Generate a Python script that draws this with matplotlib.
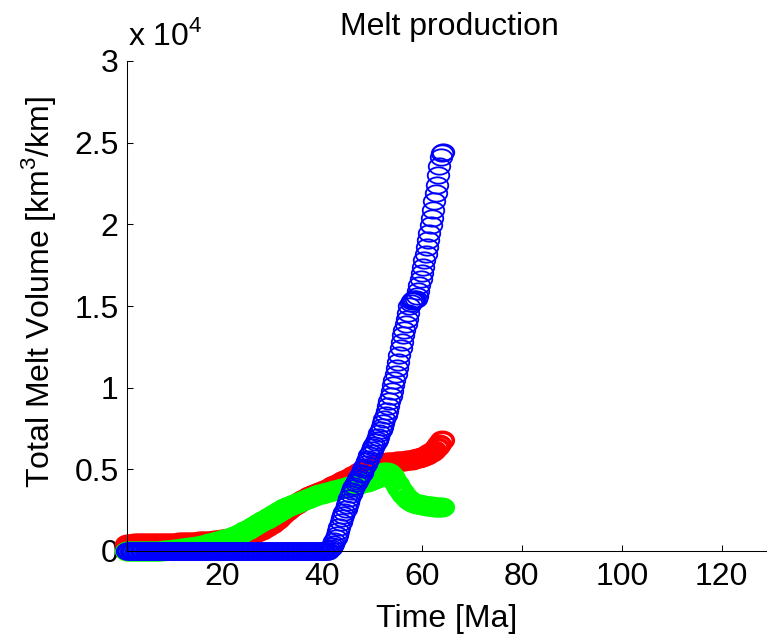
import numpy as np
import matplotlib
matplotlib.use("Agg")
import matplotlib.pyplot as plt
from matplotlib.path import Path

plt.rcParams["font.family"] = ["Liberation Sans", "DejaVu Sans"]
plt.rcParams["mathtext.fontset"] = "custom"
plt.rcParams["mathtext.rm"] = "Liberation Sans"

# --- data (melt volume in units of 1e4 km^3/km) ---
time_rg = np.arange(1.0, 64.01, 0.5)

red_melt = [
    0.045, 0.045, 0.045, 0.046, 0.046, 0.046, 0.047, 0.047, 0.047, 0.048,
    0.048, 0.048, 0.049, 0.049, 0.050, 0.050, 0.050, 0.051, 0.051, 0.052,
    0.052, 0.053, 0.053, 0.054, 0.055, 0.055, 0.056, 0.057, 0.058, 0.059,
    0.060, 0.061, 0.062, 0.063, 0.064, 0.066, 0.068, 0.070, 0.072, 0.074,
    0.076, 0.078, 0.080, 0.083, 0.086, 0.089, 0.092, 0.096, 0.100, 0.104,
    0.108, 0.112, 0.117, 0.123, 0.130, 0.138, 0.147, 0.157, 0.168, 0.180,
    0.192, 0.205, 0.218, 0.232, 0.245, 0.258, 0.270, 0.280, 0.290, 0.300,
    0.310, 0.318, 0.326, 0.334, 0.342, 0.350, 0.357, 0.364, 0.370, 0.376,
    0.382, 0.388, 0.395, 0.402, 0.410, 0.418, 0.426, 0.434, 0.442, 0.450,
    0.458, 0.466, 0.474, 0.482, 0.490, 0.497, 0.504, 0.510, 0.516, 0.522,
    0.527, 0.532, 0.536, 0.540, 0.543, 0.545, 0.546, 0.547, 0.548, 0.550,
    0.552, 0.554, 0.556, 0.558, 0.560, 0.563, 0.567, 0.572, 0.578, 0.584,
    0.590, 0.598, 0.608, 0.620, 0.636, 0.656, 0.680,
]

green_melt = [
    0.000, 0.000, 0.000, 0.000, 0.000, 0.000, 0.000, 0.000, 0.000, 0.000,
    0.000, 0.000, 0.000, 0.002, 0.003, 0.004, 0.005, 0.006, 0.008, 0.010,
    0.012, 0.014, 0.016, 0.018, 0.020, 0.022, 0.024, 0.027, 0.030, 0.033,
    0.036, 0.039, 0.043, 0.047, 0.051, 0.055, 0.059, 0.063, 0.067, 0.071,
    0.075, 0.080, 0.086, 0.092, 0.098, 0.105, 0.112, 0.120, 0.128, 0.136,
    0.145, 0.154, 0.163, 0.172, 0.181, 0.190, 0.198, 0.206, 0.214, 0.224,
    0.234, 0.244, 0.253, 0.262, 0.270, 0.277, 0.284, 0.290, 0.296, 0.302,
    0.308, 0.314, 0.320, 0.326, 0.332, 0.338, 0.343, 0.348, 0.352, 0.356,
    0.360, 0.364, 0.368, 0.372, 0.376, 0.380, 0.384, 0.388, 0.392, 0.396,
    0.400, 0.404, 0.408, 0.412, 0.416, 0.420, 0.425, 0.430, 0.435, 0.442,
    0.450, 0.460, 0.472, 0.482, 0.486, 0.478, 0.460, 0.435, 0.410, 0.385,
    0.360, 0.340, 0.325, 0.312, 0.302, 0.295, 0.290, 0.287, 0.284, 0.281,
    0.278, 0.276, 0.274, 0.272, 0.271, 0.270, 0.270,
]

# blue: flat at zero until ~41 Ma, then rising
time_blue = np.arange(1.0, 64.26, 0.25)
blue_flat = [0.0] * 160
blue_rise = [
    0.000, 0.000, 0.010, 0.020,
    0.030, 0.045, 0.060, 0.080,
    0.100, 0.125, 0.150, 0.175,
    0.200, 0.220, 0.240, 0.260,
    0.280, 0.300, 0.325, 0.350,
    0.370, 0.385, 0.400, 0.415,
    0.430, 0.440, 0.455, 0.470,
    0.480, 0.500, 0.515, 0.530,
    0.550, 0.565, 0.585, 0.600,
    0.620, 0.635, 0.650, 0.665,
    0.680, 0.700, 0.720, 0.740,
    0.760, 0.785, 0.810, 0.835,
    0.860, 0.890, 0.920, 0.950,
    0.980, 1.015, 1.050, 1.085,
    1.120, 1.160, 1.200, 1.240,
    1.280, 1.320, 1.355, 1.390,
    1.420, 1.460, 1.500, 1.520,
    1.530, 1.535, 1.540, 1.545,
    1.560, 1.590, 1.630, 1.665,
    1.700, 1.740, 1.780, 1.820,
    1.860, 1.905, 1.950, 1.995,
    2.040, 2.090, 2.140, 2.190,
    2.240, 2.300, 2.360, 2.410,
    2.435, 2.445,
]
blue_melt = blue_flat + blue_rise

x_ticks = [20, 40, 60, 80, 100, 120]
y_ticks = [0, 0.5, 1, 1.5, 2, 2.5, 3]
y_tick_labels = ["0", "0.5", "1", "1.5", "2", "2.5", "3"]

# open ellipse marker (the exported circles are a bit squashed)
theta = np.linspace(0, 2 * np.pi, 61)
ellipse = Path(np.column_stack([np.cos(theta), 0.76 * np.sin(theta)]), closed=True)

FS = 23

fig = plt.figure(figsize=(7.67, 6.44), dpi=100)
ax = fig.add_axes([127 / 767, 1 - 551 / 644, (771.7 - 127) / 767, 490 / 644])

# drawn in this order: red, then green on top, then blue
series = [
    (time_rg, red_melt, "#ff0000", 2.6),
    (time_rg, green_melt, "#00ff00", 2.6),
    (time_blue, blue_melt, "#0000ff", 1.3),
]
for t, v, col, mew in series:
    ax.plot(t, v, linestyle="none", marker=ellipse, markersize=15.5,
            markerfacecolor="none", markeredgecolor=col, markeredgewidth=mew,
            clip_on=False)

ax.set_xlim(1, 130)
ax.set_ylim(0, 3)
ax.set_xticks(x_ticks)
ax.set_yticks(y_ticks)
ax.set_yticklabels(y_tick_labels)
ax.tick_params(direction="in", length=4.5, width=0.75, labelsize=FS, pad=8)
ax.tick_params(axis="y", pad=6)
for side in ["top", "right"]:
    ax.spines[side].set_visible(False)
for side in ["left", "bottom"]:
    ax.spines[side].set_linewidth(0.75)

ax.set_xlabel("Time [Ma]", fontsize=FS)
ax.xaxis.set_label_coords((447 - 127) / 644.7, -(604 - 551) / 490)
ax.set_ylabel(r"Total Melt Volume [km$^{\mathregular{3}}$/km]", fontsize=FS)
ax.yaxis.set_label_coords(-(127 - 58) / 644.7, (551 - 292) / 490)
ax.set_title("Melt production", fontsize=FS, pad=18.5)

fig.text(128 / 767, 1 - 45 / 644, r"x 10$^{\mathregular{4}}$", fontsize=FS,
         ha="left", va="baseline")

fig.savefig("out.png", dpi=100)
